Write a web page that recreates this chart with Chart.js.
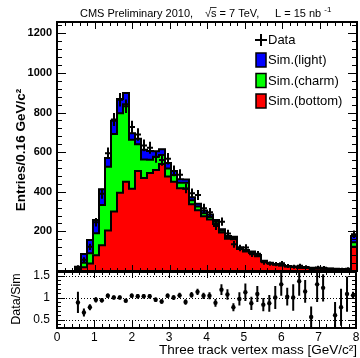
<!DOCTYPE html>
<html>
<head>
<meta charset="utf-8">
<script src="https://cdn.jsdelivr.net/npm/chart.js@4.4.1/dist/chart.umd.min.js"></script>
<style>
  html, body { margin: 0; padding: 0; background: #fff; }
  #wrap { position: relative; width: 360px; height: 358px; overflow: hidden; }
  #main { position: absolute; left: 0; top: 0; }
  #ratio { position: absolute; left: 0; top: 268px; }
</style>
</head>
<body>
<div id="wrap">
  <canvas id="main" width="360" height="273"></canvas>
  <canvas id="ratio" width="360" height="90"></canvas>
</div>
<script>
// bins of 0.16 GeV/c^2, last one holds the overflow
const binCenters = [0.08, 0.24, 0.40, 0.56, 0.72, 0.88, 1.04, 1.20, 1.36, 1.52,
  1.68, 1.84, 2.00, 2.16, 2.32, 2.48, 2.64, 2.80, 2.96, 3.12,
  3.28, 3.44, 3.60, 3.76, 3.92, 4.08, 4.24, 4.40, 4.56, 4.72,
  4.88, 5.04, 5.20, 5.36, 5.52, 5.68, 5.84, 6.00, 6.16, 6.32,
  6.48, 6.64, 6.80, 6.96, 7.12, 7.28, 7.44, 7.60, 7.76, 7.92];

const simBottom = [0, 0, 0, 4, 19, 38, 80, 130, 205, 300,
  395, 451, 415, 505, 470, 495, 510, 540, 477, 450,
  418, 415, 337, 307, 277, 260, 237, 194, 163, 160,
  111, 98, 91, 75, 48, 39, 32, 28, 23, 20,
  17, 16, 14, 12, 11, 10, 9, 8, 8, 123];

const simCharm = [0, 0, 0, 6, 23, 51, 110, 203, 321, 391,
  401, 391, 248, 135, 93, 66, 67, 45, 40, 35,
  27, 30, 20, 18, 15, 13, 11, 9, 7, 6,
  5, 4, 4, 3, 2, 2, 2, 1, 1, 1,
  1, 1, 1, 1, 1, 1, 1, 1, 1, 22];

const simLight = [0, 0, 0, 12, 44, 67, 67, 80, 45, 67,
  72, 56, 33, 28, 49, 45, 28, 30, 28, 20,
  18, 17, 15, 15, 13, 12, 10, 8, 7, 7,
  4, 4, 3, 3, 2, 1, 1, 1, 1, 1,
  1, 1, 1, 1, 1, 1, 1, 1, 1, 32];

const dataCounts = [0, 0, 0, 20, 57, 122, 246, 390, 594, 765,
  864, 832, 727, 689, 634, 622, 576, 560, 567, 505,
  486, 417, 392, 384, 317, 296, 227, 249, 189, 135,
  116, 119, 85, 87, 44, 37, 35, 39, 25, 22,
  26, 20, 9, 18, 16, 0, 7, 8, 11, 186];

const dataErr = [0, 0, 0, 4.5, 7.5, 11, 16, 20, 24, 28,
  29, 29, 27, 26, 25, 25, 24, 24, 24, 22,
  22, 20, 20, 20, 18, 17, 15, 16, 14, 12,
  11, 11, 9, 9, 7, 6, 6, 6, 5, 5,
  5, 4.5, 3, 4, 4, 0, 2.6, 2.8, 3.3, 14];

const ratio = [null, null, null, 0.89, 0.66, 0.78, 0.95, 0.94, 1.04, 1.0,
  1.0, 0.93, 1.04, 1.03, 1.03, 1.03, 0.95, 0.91, 1.04, 1.0,
  1.05, 0.9, 1.06, 1.13, 1.04, 1.04, 0.88, 1.18, 1.07, 0.78,
  0.97, 1.12, 0.87, 1.08, 0.84, 0.87, 1.0, 1.3, 1.02, 1.0,
  1.37, 1.14, 0.56, 1.3, 1.22, null, 0.6, 0.78, 1.08, 1.05];

const ratioErr = [0, 0, 0, 0.24, 0.09, 0.07, 0.06, 0.05, 0.05, 0.045,
  0.045, 0.045, 0.05, 0.05, 0.05, 0.05, 0.05, 0.05, 0.05, 0.055,
  0.06, 0.06, 0.065, 0.07, 0.07, 0.08, 0.09, 0.12, 0.12, 0.09,
  0.15, 0.2, 0.15, 0.18, 0.15, 0.19, 0.26, 0.26, 0.2, 0.3,
  0.33, 0.26, 0.24, 0.4, 0.31, 0, 0.3, 0.42, 0.4, 0.08];

const massTicks = [0, 1, 2, 3, 4, 5, 6, 7, 8];
const entriesTicks = [200, 400, 600, 800, 1000, 1200];
const ratioTicks = [0.5, 1, 1.5];

const HALF_BIN = 0.08;
const FONT = "'Liberation Sans', Arial, Helvetica, sans-serif";

Chart.defaults.font.family = FONT;
Chart.defaults.color = '#000';

function xy(values) {
  return binCenters.map((c, i) => ({ x: c, y: values[i] }));
}

// keep the plot area fixed: no extra room for half labels
function noLabelPadding(s) {
  s.paddingTop = 0;
  s.paddingBottom = 0;
  s.paddingLeft = 0;
  s.paddingRight = 0;
}

// ROOT-like frame with ticks pointing inwards on all four sides
function drawFrame(chart, o) {
  const { ctx, chartArea: a, scales: { x, y } } = chart;
  ctx.save();
  ctx.strokeStyle = '#000';
  ctx.lineWidth = 1;
  ctx.beginPath();
  for (let k = 0; k <= 40; k++) {
    const px = Math.round(x.getPixelForValue(k * 0.2)) + 0.5;
    const major = k % 5 === 0;
    ctx.moveTo(px, a.bottom);
    ctx.lineTo(px, a.bottom - (major ? o.xBottomMajor : o.xBottomMinor));
    ctx.moveTo(px, a.top);
    ctx.lineTo(px, a.top + (major ? o.xTopMajor : o.xTopMinor));
  }
  for (let k = o.yFirst; k <= o.yLast; k++) {
    const py = Math.round(y.getPixelForValue(k * o.yStep)) + 0.5;
    const major = k % 5 === 0;
    const len = major ? o.yMajor : o.yMinor;
    ctx.moveTo(a.left, py);
    ctx.lineTo(a.left + len, py);
    ctx.moveTo(a.right, py);
    ctx.lineTo(a.right - len, py);
  }
  ctx.stroke();
  ctx.lineWidth = 2;
  ctx.strokeRect(a.left, a.top, a.right - a.left, a.bottom - a.top);
  ctx.restore();
}

const mainPlugin = {
  id: 'mainExtras',
  afterDatasetsDraw(chart) {
    const { ctx, chartArea: a, scales: { x, y } } = chart;
    ctx.save();
    ctx.beginPath();
    ctx.rect(a.left, a.top, a.right - a.left, a.bottom - a.top);
    ctx.clip();

    // black step outline on top of every stacked layer
    ctx.strokeStyle = '#000';
    ctx.lineWidth = 2;
    ctx.lineJoin = 'miter';
    for (let d = 0; d < 3; d++) {
      const bars = chart.getDatasetMeta(d).data;
      ctx.beginPath();
      bars.forEach((el, i) => {
        const l = el.x - el.width / 2, r = el.x + el.width / 2;
        if (i === 0) {
          ctx.moveTo(l, el.base);
        }
        ctx.lineTo(l, el.y);
        ctx.lineTo(r, el.y);
        if (i === bars.length - 1) {
          ctx.lineTo(r, el.base);
        }
      });
      ctx.stroke();
    }

    // data crosses
    ctx.lineWidth = 2;
    ctx.beginPath();
    dataCounts.forEach((n, i) => {
      if (n <= 0) return;
      const c = binCenters[i];
      const px = x.getPixelForValue(c), py = y.getPixelForValue(n);
      ctx.moveTo(x.getPixelForValue(c - HALF_BIN), py);
      ctx.lineTo(x.getPixelForValue(c + HALF_BIN), py);
      ctx.moveTo(px, y.getPixelForValue(n - dataErr[i]) + 1);
      ctx.lineTo(px, y.getPixelForValue(n + dataErr[i]) - 1);
    });
    ctx.stroke();
    ctx.restore();
  },
  afterDraw(chart) {
    const ctx = chart.ctx;
    drawFrame(chart, {
      xBottomMajor: 6, xBottomMinor: 3, xTopMajor: 7, xTopMinor: 4,
      yFirst: 0, yLast: 31, yStep: 40, yMajor: 9, yMinor: 5
    });

    ctx.save();
    ctx.fillStyle = '#000';

    // title
    ctx.font = '11px ' + FONT;
    ctx.textBaseline = 'alphabetic';
    ctx.textAlign = 'left';
    ctx.fillText('CMS Preliminary 2010,', 80, 17);
    const rootX = 205;
    const rootW = ctx.measureText('\u221A').width;
    const sW = ctx.measureText('s').width;
    ctx.fillText('\u221As = 7 TeV,', rootX, 17);
    ctx.lineWidth = 0.8;
    ctx.beginPath();
    ctx.moveTo(rootX + rootW - 1, 7.5);
    ctx.lineTo(rootX + rootW + sW, 7.5);
    ctx.strokeStyle = '#000';
    ctx.stroke();
    ctx.fillText('L = 15 nb', 275, 17);
    const lw = ctx.measureText('L = 15 nb ').width;
    ctx.font = '8px ' + FONT;
    ctx.fillText('-1', 275 + lw, 12);

    // y axis title
    ctx.save();
    ctx.translate(25, 150);
    ctx.rotate(-Math.PI / 2);
    ctx.textAlign = 'center';
    ctx.font = 'bold 13.5px ' + FONT;
    ctx.fillText('Entries/0.16 GeV/c\u00B2', 0, 0);
    ctx.restore();

    // legend
    ctx.strokeStyle = '#000';
    ctx.lineWidth = 2;
    ctx.beginPath();
    ctx.moveTo(255, 40); ctx.lineTo(267, 40);
    ctx.moveTo(261, 34); ctx.lineTo(261, 46);
    ctx.stroke();
    ctx.font = '13px ' + FONT;
    ctx.textBaseline = 'middle';
    ctx.fillText('Data', 268, 40.5);
    const boxes = [
      ['#0000ff', 'Sim.(light)', 53],
      ['#00ff00', 'Sim.(charm)', 73.5],
      ['#ff0000', 'Sim.(bottom)', 94]
    ];
    ctx.lineWidth = 1.5;
    boxes.forEach(([col, label, top]) => {
      ctx.fillStyle = col;
      ctx.fillRect(256, top, 10, 14);
      ctx.strokeRect(256, top, 10, 14);
      ctx.fillStyle = '#000';
      ctx.fillText(label, 268, top + 7.5);
    });
    ctx.restore();
  }
};

const ratioPlugin = {
  id: 'ratioExtras',
  beforeDatasetsDraw(chart) {
    const { ctx, chartArea: a, scales: { y } } = chart;
    ctx.save();
    ctx.strokeStyle = '#000';
    ctx.lineWidth = 1;
    ctx.setLineDash([1, 2]);
    ctx.beginPath();
    ratioTicks.forEach(v => {
      const py = Math.round(y.getPixelForValue(v)) + 0.5;
      ctx.moveTo(a.left, py);
      ctx.lineTo(a.right, py);
    });
    ctx.stroke();
    ctx.restore();
  },
  afterDatasetsDraw(chart) {
    const { ctx, chartArea: a, scales: { x, y } } = chart;
    ctx.save();
    ctx.beginPath();
    ctx.rect(a.left, a.top, a.right - a.left, a.bottom - a.top);
    ctx.clip();
    ctx.strokeStyle = '#000';
    ctx.lineWidth = 2;
    ctx.beginPath();
    ratio.forEach((r, i) => {
      if (r === null) return;
      const px = x.getPixelForValue(binCenters[i]);
      ctx.moveTo(px, y.getPixelForValue(r - ratioErr[i]));
      ctx.lineTo(px, y.getPixelForValue(r + ratioErr[i]));
    });
    ctx.stroke();
    ctx.restore();
  },
  afterDraw(chart) {
    const ctx = chart.ctx;
    drawFrame(chart, {
      xBottomMajor: 8, xBottomMinor: 4, xTopMajor: 6, xTopMinor: 3,
      yFirst: 4, yLast: 15, yStep: 0.1, yMajor: 8, yMinor: 4
    });
    ctx.save();
    ctx.fillStyle = '#000';
    ctx.save();
    ctx.translate(20, 31);
    ctx.rotate(-Math.PI / 2);
    ctx.textAlign = 'center';
    ctx.font = '12.5px ' + FONT;
    ctx.fillText('Data/Sim', 0, 0);
    ctx.restore();
    ctx.textAlign = 'right';
    ctx.font = '13.5px ' + FONT;
    ctx.fillText('Three track vertex mass [GeV/c\u00B2]', 357, 86);
    ctx.restore();
  }
};

const common = {
  responsive: false,
  animation: false,
  events: [],
  plugins: { legend: { display: false }, tooltip: { enabled: false } }
};

new Chart(document.getElementById('main'), {
  type: 'bar',
  data: {
    datasets: [
      { label: 'Sim.(bottom)', data: xy(simBottom), backgroundColor: '#ff0000', borderWidth: 0 },
      { label: 'Sim.(charm)', data: xy(simCharm), backgroundColor: '#00ff00', borderWidth: 0 },
      { label: 'Sim.(light)', data: xy(simLight), backgroundColor: '#0000ff', borderWidth: 0 },
      { type: 'line', label: 'Data', data: xy(dataCounts), showLine: false, pointRadius: 0 }
    ]
  },
  options: Object.assign({}, common, {
    barPercentage: 1,
    categoryPercentage: 1,
    layout: { padding: { left: 0, right: 3, top: 22, bottom: 2 } },
    scales: {
      x: {
        type: 'linear', min: 0, max: 8, offset: false, stacked: true, display: false
      },
      y: {
        stacked: true, min: 0, max: 1257,
        afterFit(s) { s.width = 57; noLabelPadding(s); },
        afterBuildTicks(s) { s.ticks = entriesTicks.map(v => ({ value: v })); },
        grid: { display: false, drawTicks: false },
        border: { display: false },
        ticks: { font: { size: 11, weight: 'bold' }, padding: 5, callback: v => String(v) }
      }
    }
  }),
  plugins: [mainPlugin]
});

new Chart(document.getElementById('ratio'), {
  type: 'line',
  data: {
    datasets: [{
      label: 'Data/Sim', data: xy(ratio), showLine: false,
      pointRadius: 2.2, pointBackgroundColor: '#000', pointBorderColor: '#000', pointBorderWidth: 0
    }]
  },
  options: Object.assign({}, common, {
    layout: { padding: { left: 0, right: 3, top: 3, bottom: 0 } },
    scales: {
      x: {
        type: 'linear', min: 0, max: 8,
        afterFit(s) { s.height = 30; noLabelPadding(s); },
        afterBuildTicks(s) { s.ticks = massTicks.map(v => ({ value: v })); },
        grid: { display: false, drawTicks: false },
        border: { display: false },
        ticks: { font: { size: 12 }, padding: 2, autoSkip: false, maxRotation: 0, callback: v => String(v) }
      },
      y: {
        min: 0.31, max: 1.58,
        afterFit(s) { s.width = 57; noLabelPadding(s); },
        afterBuildTicks(s) { s.ticks = ratioTicks.map(v => ({ value: v })); },
        grid: { display: false, drawTicks: false },
        border: { display: false },
        ticks: { font: { size: 12 }, padding: 7, callback: v => String(v) }
      }
    }
  }),
  plugins: [ratioPlugin]
});
</script>
</body>
</html>
